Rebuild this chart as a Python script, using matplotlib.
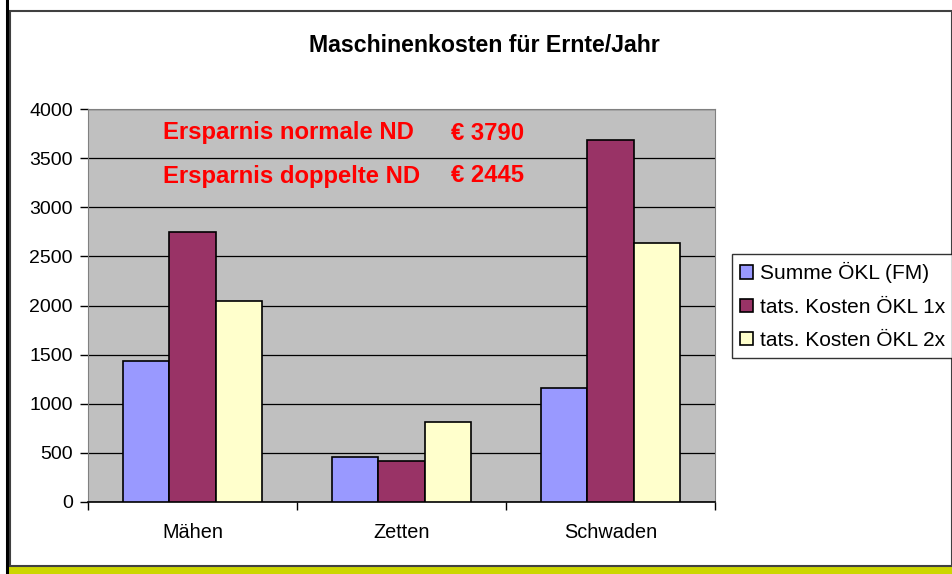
import numpy as np
import matplotlib
matplotlib.use("Agg")
import matplotlib.pyplot as plt
from matplotlib.patches import Rectangle
from matplotlib.lines import Line2D

plt.rcParams['font.family'] = ['Liberation Sans', 'DejaVu Sans']

# Daten
kategorien = ["Mähen", "Zetten", "Schwaden"]
summe_okl = [1435, 455, 1165]
kosten_1x = [2745, 420, 3680]
kosten_2x = [2050, 815, 2635]
serien = ["Summe ÖKL (FM)", "tats. Kosten ÖKL 1x", "tats. Kosten ÖKL 2x"]
farben = ["#9999FF", "#993366", "#FFFFCC"]
titel = "Maschinenkosten für Ernte/Jahr"
hinweis = [("Ersparnis normale ND", "€ 3790"), ("Ersparnis doppelte ND", "€ 2445")]

W, H = 953, 574
fig = plt.figure(figsize=(W / 100, H / 100), dpi=100)
fig.patch.set_facecolor("white")


def fx(x):
    return x / W


def fy(y):
    return 1 - y / H


# Rahmen ringsum
fig.add_artist(Rectangle((fx(8), fy(574)), fx(945), 8 / H, transform=fig.transFigure,
                         facecolor="#CCD600", edgecolor="none"))
fig.add_artist(Rectangle((fx(10), fy(566)), fx(942), 555 / H, transform=fig.transFigure,
                         facecolor="none", edgecolor="#404040", linewidth=1.5))
fig.add_artist(Line2D([fx(7), fx(7)], [0, 1], transform=fig.transFigure,
                      color="black", linewidth=2.2))

ax = fig.add_axes([fx(88), fy(502), fx(715) - fx(88), (502 - 109) / H])
ax.set_facecolor("#C0C0C0")

x = np.arange(len(kategorien))
breite = 0.222
werte = [summe_okl, kosten_1x, kosten_2x]
for i, (name, farbe, w) in enumerate(zip(serien, farben, werte)):
    ax.bar(x + (i - 1) * breite, w, breite, color=farbe, edgecolor="black",
           linewidth=1.2, label=name, zorder=3)

ax.set_xlim(-0.5, 2.5)
ax.set_ylim(0, 4000)
ax.set_yticks(np.arange(0, 4001, 500))
ax.yaxis.grid(True, color="black", linewidth=0.9, zorder=0)
ax.tick_params(axis="y", labelsize=14, length=6, width=1, direction="out", pad=5)

ax.set_xticks([-0.5, 0.5, 1.5, 2.5])
ax.set_xticklabels([])
ax.set_xticks(x, minor=True)
ax.set_xticklabels(kategorien, minor=True, fontsize=14.3)
ax.tick_params(axis="x", which="major", length=6, width=1, direction="out")
ax.tick_params(axis="x", which="minor", length=0, pad=15)

for s in ["top", "right"]:
    ax.spines[s].set_color("#808080")
ax.spines["left"].set_color("#808080")
ax.spines["bottom"].set_color("black")
ax.spines["bottom"].set_linewidth(1.2)

# rote Hinweise im Diagramm
for j, (txt, betrag) in enumerate(hinweis):
    yy = 1 - (133 + j * 43 - 109) / 393
    ax.text((163 - 88) / 627, yy, txt, transform=ax.transAxes, color="#FF0000",
            fontsize=17.2, fontweight="bold", va="center", ha="left", zorder=5)
    ax.text((451 - 88) / 627, yy, betrag, transform=ax.transAxes, color="#FF0000",
            fontsize=17.2, fontweight="bold", va="center", ha="left", zorder=5)

fig.text(fx(484), fy(45), titel, fontsize=16.7, fontweight="bold", ha="center", va="center")

leg = fig.legend(loc="center left", bbox_to_anchor=(fx(732), fy(306)), fontsize=15,
                 frameon=True, fancybox=False, edgecolor="black", handlelength=0.6,
                 handleheight=0.6, handletextpad=0.35, borderpad=0.4, labelspacing=0.68,
                 borderaxespad=0)
leg.get_frame().set_linewidth(1)

fig.savefig("out.png", dpi=100)
